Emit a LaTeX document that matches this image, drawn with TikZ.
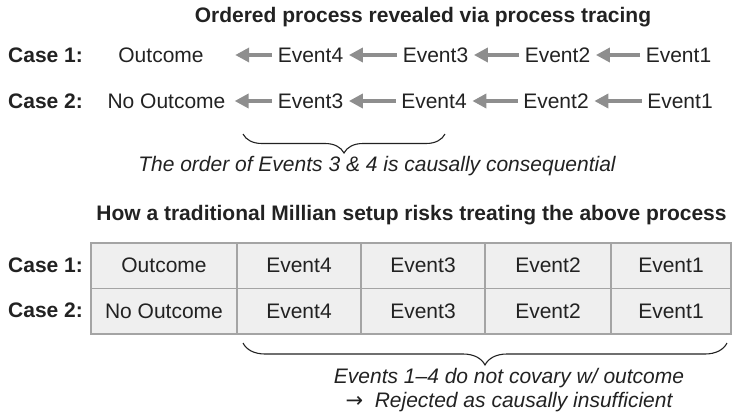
\documentclass[tikz,border=0pt]{standalone}
\usepackage{fontspec}
\setmainfont{Liberation Sans}
\newfontfamily\arrowfont{DejaVu Sans}
\usetikzlibrary{arrows.meta, decorations.pathreplacing}
\definecolor{inkgray}{HTML}{222222}
\definecolor{arrowgray}{HTML}{8E8E8E}
\definecolor{cellfill}{HTML}{EFEFEF}
\definecolor{cellline}{HTML}{A4A4A4}

\begin{document}
\begin{tikzpicture}[x = 1pt, y = -1pt, font = \fontsize{21}{24}\selectfont, text = inkgray]
\tikzstyle{TitleStyle}=[font = \fontsize{21}{24}\selectfont\bfseries, inner sep = 0pt]
\tikzstyle{CaseStyle}=[font = \fontsize{21}{24}\selectfont\bfseries, anchor = west, inner sep = 0pt]
\tikzstyle{EventStyle}=[inner xsep = 5.5pt, inner ysep = 0pt,
                        text height = 15pt, text depth = 0pt]
\tikzstyle{NoteStyle}=[font = \fontsize{21}{24}\selectfont\itshape, align = center, inner sep = 0pt]
\tikzstyle{CellStyle}=[draw = cellline, fill = cellfill, line width = 1.5pt,
                       minimum height = 45.5pt, inner sep = 0pt]
\tikzstyle{Flow}=[draw = arrowgray, line width = 3.5pt,
                  -{Triangle[length = 14pt 0, width = 14pt 0]}]
\tikzstyle{Brace}=[draw = inkgray, line width = 1.1pt,
                   decorate, decoration = {brace, mirror}]
\useasboundingbox (0,0) rectangle (732,416);
\node[TitleStyle] (t0) at (423,17) {Ordered process revealed via process tracing};
\node[CaseStyle] (c1) at (8,55) {Case 1:};
\node[EventStyle, minimum width = 148pt] (o1) at (161,55) {Outcome};
\node[EventStyle] (a4) at (310.5,55) {Event4};
\node[EventStyle] (a3) at (435.5,55) {Event3};
\node[EventStyle] (a2) at (557.5,55) {Event2};
\node[EventStyle] (a1) at (678.5,55) {Event1};
\node[CaseStyle] (c2) at (8,101) {Case 2:};
\node[EventStyle, inner xsep = 9pt] (o2) at (166.5,101) {No Outcome};
\node[EventStyle] (b3) at (310.5,101) {Event3};
\node[EventStyle] (b4) at (434,101) {Event4};
\node[EventStyle] (b2) at (556,101) {Event2};
\node[EventStyle] (b1) at (680,101) {Event1};
\draw[Flow] (a4) -- (o1);
\draw[Flow] (a3) -- (a4);
\draw[Flow] (a2) -- (a3);
\draw[Flow] (a1) -- (a2);
\draw[Flow] (b3) -- (o2);
\draw[Flow] (b4) -- (b3);
\draw[Flow] (b2) -- (b4);
\draw[Flow] (b1) -- (b2);
\coordinate (s0) at (243,134);
\coordinate (s1) at (445,134);
\draw[Brace, decoration = {amplitude = 19pt}] (s0) -- (s1);
\node[NoteStyle] (n0) at (377,166) {The order of Events 3 \& 4 is causally consequential};
\node[TitleStyle] (t1) at (411.5,215) {How a traditional Millian setup risks treating the above process};
\node[CaseStyle] (d1) at (8,265) {Case 1:};
\node[CaseStyle] (d2) at (8,310.5) {Case 2:};
\node[CellStyle, minimum width = 146pt] (m10) at (164,265.75) {Outcome};
\node[CellStyle, minimum width = 124pt] (m14) at (299,265.75) {Event4};
\node[CellStyle, minimum width = 124pt] (m13) at (423,265.75) {Event3};
\node[CellStyle, minimum width = 126pt] (m12) at (548,265.75) {Event2};
\node[CellStyle, minimum width = 120pt] (m11) at (671,265.75) {Event1};
\node[CellStyle, minimum width = 146pt] (m20) at (164,311.25) {No Outcome};
\node[CellStyle, minimum width = 124pt] (m24) at (299,311.25) {Event4};
\node[CellStyle, minimum width = 124pt] (m23) at (423,311.25) {Event3};
\node[CellStyle, minimum width = 126pt] (m22) at (548,311.25) {Event2};
\node[CellStyle, minimum width = 120pt] (m21) at (671,311.25) {Event1};
\coordinate (s2) at (243,343);
\coordinate (s3) at (727,343);
\draw[Brace, decoration = {amplitude = 22pt}] (s2) -- (s3);
\node[NoteStyle] (n1) at (509,390) {Events 1--4 do not covary w/ outcome\\{\arrowfont\upshape\fontsize{21}{21}\selectfont →}\ \ Rejected as causally insufficient};
\end{tikzpicture}
\end{document}
